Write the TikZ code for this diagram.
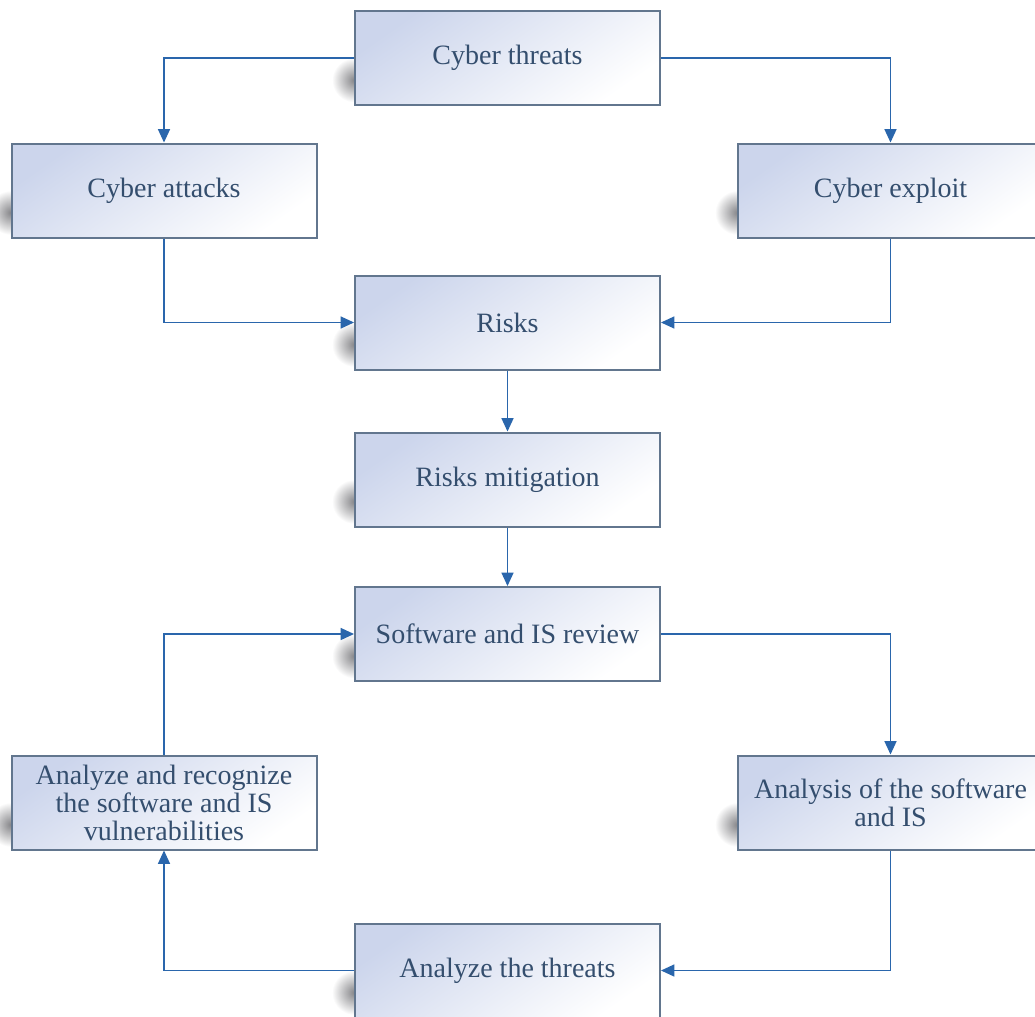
\documentclass[tikz,border=0pt]{standalone}
\usepackage{fontspec}
\setmainfont{Liberation Serif}
\usetikzlibrary{arrows.meta,calc,backgrounds,fadings}
\definecolor{bxtop}{RGB}{204,213,236}
\definecolor{bxline}{RGB}{98,118,142}
\definecolor{txt}{RGB}{52,78,110}
\definecolor{conn}{RGB}{42,102,172}
\definecolor{shad}{RGB}{70,70,75}
\tikzfading[name=shfade, inner color=transparent!35, outer color=transparent!100]
\tikzset{
  box/.style={draw=bxline, line width=1.5pt, top color=bxtop, bottom color=white,
    shading angle=35, minimum width=228.75pt, minimum height=70.5pt,
    inner sep=2pt, align=center, text=txt, font=\fontsize{21}{21}\selectfont},
  link/.style={draw=conn, line width=1pt, -{Triangle[length=10pt,width=9pt]}},
  shadowblob/.style={fill=shad, path fading=shfade}
}
\newcommand{\boxshadow}[1]{%
  \fill[shadowblob] ($(#1.south west)+(-22,-48)$) rectangle ($(#1.south west)+(22,-4)$);}
\begin{document}
\begin{tikzpicture}[x=0.75pt,y=-0.75pt]
\clip (0,0) rectangle (1035,1017);
\node[box] (thr) at (507.5,58) {Cyber threats};
\node[box] (att) at (164,190.5) {Cyber attacks};
\node[box] (exp) at (890.5,190.5) {Cyber exploit};
\node[box] (risk) at (507.5,322.5) {Risks};
\node[box] (mit) at (507.5,479.5) {Risks mitigation};
\node[box] (rev) at (507.5,634) {Software and IS review};
\node[box] (rec) at (164,802.5) {Analyze and recognize\\the software and IS\\vulnerabilities};
\node[box] (ana) at (890.5,802.5) {Analysis of the software\\and IS};
\node[box] (tha) at (507.5,970.5) {Analyze the threats};
\begin{scope}[on background layer]
\fill[white] (0,0) rectangle (1035,1017);
\foreach \n in {thr,att,exp,risk,mit,rev,rec,ana,tha}{\boxshadow{\n}}
\end{scope}
\draw[link] (thr.west) -| (att.north);
\draw[link] (thr.east) -| (exp.north);
\draw[link] (att.south) |- (risk.west);
\draw[link] (exp.south) |- (risk.east);
\draw[link] (risk.south) -- (mit.north);
\draw[link] (mit.south) -- (rev.north);
\draw[link] (rev.east) -| (ana.north);
\draw[link] (ana.south) |- (tha.east);
\draw[link] (tha.west) -| (rec.south);
\draw[link] (rec.north) |- (rev.west);
\end{tikzpicture}
\end{document}
